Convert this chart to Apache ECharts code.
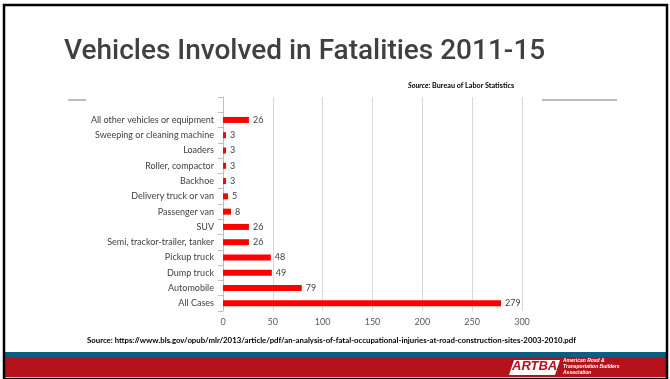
<!DOCTYPE html>
<html>
<head>
<meta charset="utf-8">
<script src="https://cdn.jsdelivr.net/npm/echarts@6/dist/echarts.min.js"></script>
<style>
html,body{margin:0;padding:0;background:#fff;}
#c{width:670px;height:379px;}
</style>
</head>
<body>
<div id="c"></div>
<script>
const categories = ['', 'All other vehicles or equipment', 'Sweeping or cleaning machine', 'Loaders', 'Roller, compactor', 'Backhoe', 'Delivery truck or van', 'Passenger van', 'SUV', 'Semi, trackor-trailer, tanker', 'Pickup truck', 'Dump truck', 'Automobile', 'All Cases'];
const fatalities = [null, 26, 3, 3, 3, 3, 5, 8, 26, 26, 48, 49, 79, 279];
const xTicks = [0, 50, 100, 150, 200, 250, 300];
const titleText = 'Vehicles Involved in Fatalities 2011-15';
const sourceTop = 'Bureau of Labor Statistics';
const sourceBottom = 'Source: https://www.bls.gov/opub/mlr/2013/article/pdf/an-analysis-of-fatal-occupational-injuries-at-road-construction-sites-2003-2010.pdf';
const slideNumber = '24';

const chart = echarts.init(document.getElementById('c'), null, {renderer: 'canvas'});
const labelFont = 'Lato, "Open Sans", sans-serif';
chart.setOption({
  animation: false,
  backgroundColor: '#ffffff',
  title: [
    {text: titleText, left: 64, top: 38, padding: 0, textStyle: {fontFamily: 'Roboto, sans-serif', fontSize: 28, fontWeight: 500, color: '#404040'}},
    {text: '{i|Source:}{b| ' + sourceTop + '}', left: 408, top: 82, padding: 0,
      textStyle: {fontSize: 7.2, rich: {
        i: {fontFamily: labelFont, fontSize: 7.2, fontStyle: 'italic', fontWeight: 'bold', color: '#000'},
        b: {fontFamily: labelFont, fontSize: 7.2, fontWeight: 'bold', color: '#000'}
      }}},
    {text: sourceBottom, left: 87, top: 336, padding: 0, textStyle: {fontFamily: labelFont, fontSize: 7.8, fontWeight: 'bold', color: '#000'}},
    {text: slideNumber, left: 64, top: 363, padding: 0, textStyle: {fontFamily: '"Liberation Sans", Arial, sans-serif', fontSize: 13, fontWeight: 'bold', color: '#ffffff'}}
  ],
  grid: {left: 223, top: 97, width: 299, height: 214, containLabel: false},
  xAxis: {
    type: 'value', min: xTicks[0], max: xTicks[xTicks.length - 1], interval: xTicks[1] - xTicks[0],
    axisLine: {show: false}, axisTick: {show: false},
    splitLine: {show: true, lineStyle: {color: '#d9d9d9', width: 1}},
    axisLabel: {fontFamily: labelFont, fontSize: 9, color: '#595959', margin: 7}
  },
  yAxis: {
    type: 'category', inverse: true, data: categories,
    axisLine: {show: true, lineStyle: {color: '#bfbfbf', width: 1}},
    axisTick: {show: true, length: 5, lineStyle: {color: '#bfbfbf'}},
    axisLabel: {fontFamily: labelFont, fontSize: 9, color: '#404040', margin: 9}
  },
  series: [{
    type: 'bar', data: fatalities, barWidth: 6,
    itemStyle: {color: '#ff0000'},
    label: {show: true, position: 'right', distance: 4, fontFamily: labelFont, fontSize: 9, color: '#404040'}
  }],
  graphic: [
    {type: 'rect', shape: {x: 4, y: 5, width: 663, height: 374}, style: {fill: 'none', stroke: '#000', lineWidth: 2.5}, z: 100},
    {type: 'line', shape: {x1: 68, y1: 100, x2: 86, y2: 100}, style: {stroke: '#a6a6a6', lineWidth: 1.5}},
    {type: 'line', shape: {x1: 542, y1: 100, x2: 617, y2: 100}, style: {stroke: '#a6a6a6', lineWidth: 1.5}},
    {type: 'rect', shape: {x: 4, y: 352, width: 663, height: 5}, style: {fill: '#0d5c82'}, z: 50},
    {type: 'rect', shape: {x: 4, y: 357, width: 663, height: 20}, style: {fill: '#b5121b'}, z: 50},
    {type: 'polygon', shape: {points: [[514, 360], [560, 360], [555, 375], [509, 375]]}, style: {fill: '#ffffff'}, z: 60},
    {type: 'text', left: 512, top: 360, style: {text: 'ARTBA', fontFamily: '"Liberation Sans", Arial, sans-serif', fontSize: 13, fontWeight: 'bold', fontStyle: 'italic', fill: '#b5121b'}, z: 61},
    {type: 'text', left: 563, top: 358, style: {text: 'American Road &\nTransportation Builders\nAssociation', fontFamily: '"Liberation Sans", Arial, sans-serif', fontSize: 5, lineHeight: 6, fontWeight: 'bold', fontStyle: 'italic', fill: '#ffffff'}, z: 61}
  ]
});
</script>
</body>
</html>
